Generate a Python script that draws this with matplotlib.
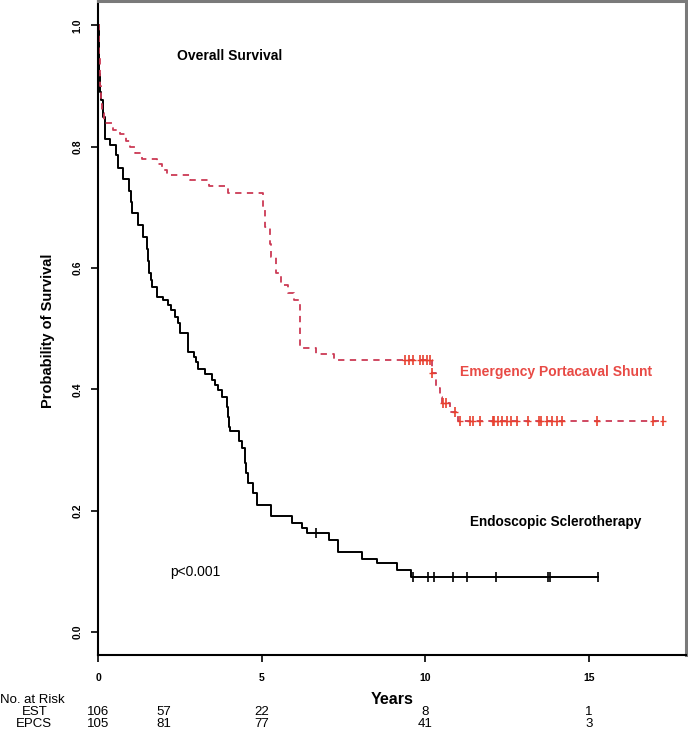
import matplotlib
matplotlib.use("Agg")
import matplotlib.pyplot as plt
import matplotlib.transforms as mtransforms
import numpy as np

# Kaplan-Meier steps: (time in years, survival after the drop)
est_times = [0.0, 0.02, 0.04, 0.06, 0.10, 0.15, 0.21, 0.37, 0.55, 0.60, 0.77, 0.96,
             1.00, 1.05, 1.22, 1.38, 1.50, 1.53, 1.57, 1.62, 1.65, 1.80, 1.99, 2.14,
             2.22, 2.35, 2.45, 2.50, 2.75, 2.94, 3.00, 3.06, 3.27, 3.48, 3.58, 3.67,
             3.79, 3.94, 3.97, 4.00, 4.03, 4.30, 4.40, 4.49, 4.53, 4.58, 4.74, 4.86,
             5.29, 5.93, 6.24, 6.39, 7.06, 7.33, 8.07, 8.52, 9.13, 9.58]
est_surv = [1.0, 0.96, 0.92, 0.89, 0.876, 0.849, 0.813, 0.802, 0.786, 0.764, 0.746, 0.727,
            0.708, 0.690, 0.670, 0.651, 0.632, 0.612, 0.591, 0.580, 0.569, 0.552, 0.547, 0.539,
            0.530, 0.519, 0.509, 0.492, 0.462, 0.454, 0.445, 0.434, 0.425, 0.415, 0.407, 0.399,
            0.387, 0.371, 0.355, 0.338, 0.331, 0.314, 0.303, 0.278, 0.262, 0.246, 0.229, 0.209,
            0.191, 0.180, 0.171, 0.163, 0.152, 0.132, 0.121, 0.113, 0.102, 0.091]
est_end = 15.29
est_censor = [6.66, 9.64, 10.10, 10.27, 10.84, 11.28, 12.16, 13.74, 13.81, 15.29]

epcs_times = [0.0, 0.03, 0.06, 0.09, 0.12, 0.18, 0.46, 0.67, 0.85, 0.98, 1.13, 1.35,
              1.80, 1.95, 2.12, 2.80, 3.40, 3.96, 5.05, 5.10, 5.26, 5.30, 5.45, 5.60,
              5.80, 6.00, 6.17, 6.65, 7.20, 10.20, 10.32, 10.45, 10.50, 10.75, 11.00]
epcs_surv = [1.0, 0.95, 0.90, 0.87, 0.855, 0.839, 0.828, 0.820, 0.810, 0.800, 0.790, 0.780,
             0.772, 0.761, 0.753, 0.745, 0.735, 0.724, 0.700, 0.668, 0.640, 0.618, 0.591, 0.572,
             0.558, 0.547, 0.468, 0.458, 0.448, 0.427, 0.402, 0.388, 0.377, 0.363, 0.348]
epcs_end = 17.3
epcs_censor = [9.39, 9.51, 9.63, 9.85, 9.94, 10.06, 10.15, 10.22, 10.55, 10.65, 10.9,
               11.06, 11.37, 11.47, 11.67, 12.06, 12.10, 12.23, 12.36, 12.49, 12.61, 12.79,
               13.15, 13.48, 13.55, 13.71, 13.86, 14.03, 14.17, 15.24, 16.97, 17.27]

risk_times = [0, 2, 5, 10, 15]
risk_est = [106, 57, 22, 8, 1]
risk_epcs = [105, 81, 77, 41, 3]

RED_LINE = "#cc3a55"
RED_MARK = "#e8402f"
RED_TEXT = "#e84a45"

FONT = ["Liberation Sans", "DejaVu Sans"]


def surv_at(times, surv, t):
    idx = np.searchsorted(times, t, side="right") - 1
    return np.array(surv)[idx]


fig = plt.figure(figsize=(6.88, 7.32), dpi=100)
ax = fig.add_axes([98 / 688, 1 - 655 / 732, (686 - 98) / 688, (655 - 1) / 732])

# curves
ax.step(est_times + [est_end], est_surv + [est_surv[-1]], where="post",
        color="black", lw=1.4)
ax.step(epcs_times + [epcs_end], epcs_surv + [epcs_surv[-1]], where="post",
        color=RED_LINE, lw=1.3, ls=(0, (3.5, 3)))

ax.plot(est_censor, surv_at(est_times, est_surv, est_censor), ls="none",
        marker="|", ms=7, mew=1.2, color="black")
ax.plot(epcs_censor, surv_at(epcs_times, epcs_surv, epcs_censor), ls="none",
        marker="|", ms=7, mew=1.2, color=RED_MARK)
ax.plot(epcs_censor, surv_at(epcs_times, epcs_surv, epcs_censor), ls="none",
        marker="_", ms=5, mew=1.0, color=RED_MARK)

ax.set_xlim(0, 17.97)
ax.set_ylim(-0.038, 1.040)
ax.set_xticks([0, 5, 10, 15])
ax.set_yticks([0.0, 0.2, 0.4, 0.6, 0.8, 1.0])
ax.set_yticklabels(["0.0", "0.2", "0.4", "0.6", "0.8", "1.0"], rotation=90,
                   va="center", family=FONT, fontsize=7.5, fontweight="bold")
ax.set_xticklabels(["0", "5", "10", "15"], family=FONT, fontsize=7.5,
                   fontweight="bold")
ax.tick_params(axis="x", direction="out", length=5, width=1.2, pad=8)
ax.tick_params(axis="y", direction="out", length=5, width=1.2, pad=6)

for side in ["left", "bottom"]:
    ax.spines[side].set_color("black")
    ax.spines[side].set_linewidth(1.5)
for side in ["top", "right"]:
    ax.spines[side].set_color("#7a7a7a")
    ax.spines[side].set_linewidth(2.2)

ax.set_ylabel("Probability of Survival", family=FONT, fontsize=10.5,
              fontweight="bold")
ax.yaxis.set_label_coords(-0.073, 0.495)

# annotations
ax.text(4.03, 0.949, "Overall Survival", ha="center", va="center",
        family=FONT, fontsize=10, fontweight="bold")
ax.text(11.07, 0.428, "Emergency Portacaval Shunt", ha="left", va="center",
        family=FONT, fontsize=10, fontweight="bold", color=RED_TEXT)
ax.text(11.37, 0.181, "Endoscopic Sclerotherapy", ha="left", va="center",
        family=FONT, fontsize=9.8, fontweight="bold")
ax.text(2.2, 0.098, "p<0.001", ha="left", va="center",
        family=FONT, fontsize=10)

# number at risk table
trans = mtransforms.blended_transform_factory(ax.transData, fig.transFigure)
fig.text(0.0, 1 - 700 / 732, "No. at Risk", ha="left", va="center",
         family=FONT, fontsize=9.5)
fig.text(35 / 688, 1 - 712 / 732, "EST", ha="center", va="center",
         family=FONT, fontsize=9.5)
fig.text(34 / 688, 1 - 724 / 732, "EPCS", ha="center", va="center",
         family=FONT, fontsize=9.5)
for t, n_est, n_epcs in zip(risk_times, risk_est, risk_epcs):
    ax.text(t, 1 - 712 / 732, str(n_est), transform=trans, ha="center",
            va="center", family=FONT, fontsize=9.5)
    ax.text(t, 1 - 724 / 732, str(n_epcs), transform=trans, ha="center",
            va="center", family=FONT, fontsize=9.5)
ax.text(9.0, 1 - 699 / 732, "Years", transform=trans, ha="center",
        va="center", family=FONT, fontsize=11.5, fontweight="bold")

fig.savefig("out.png", dpi=100)
